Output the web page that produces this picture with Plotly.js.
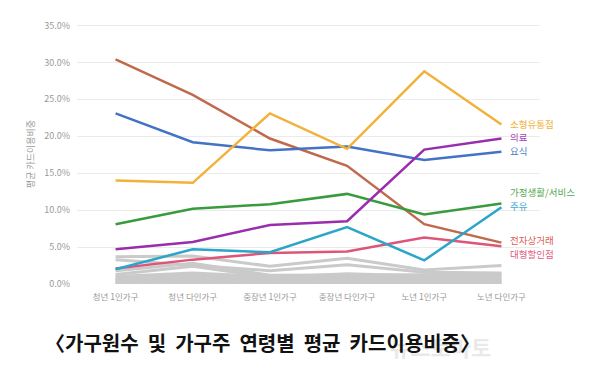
<!DOCTYPE html>
<html><head><meta charset="utf-8">
<script src="https://cdn.plot.ly/plotly-3.0.1.min.js"></script>
<style>html,body{margin:0;padding:0;background:#fff;}#chart{width:603px;height:385px;}</style>
</head><body><div id="chart"></div>
<script>
const categories = ["청년 1인가구","청년 다인가구","중장년 1인가구","중장년 다인가구","노년 1인가구","노년 다인가구"];
const yTicks = [0,5,10,15,20,25,30,35];

const smallRetail = [14.0, 13.7, 23.1, 18.3, 28.8, 21.6];   // 소형유통점
const medical     = [4.7, 5.7, 8.0, 8.5, 18.2, 19.7];       // 의료
const dining      = [23.1, 19.2, 18.1, 18.6, 16.8, 17.9];   // 요식
const household   = [8.1, 10.2, 10.8, 12.2, 9.4, 10.9];     // 가정생활/서비스
const fuel        = [2.0, 4.7, 4.3, 7.7, 3.2, 10.4];        // 주유
const ecommerce   = [30.4, 25.6, 19.7, 16.0, 8.1, 5.6];     // 전자상거래
const discount    = [2.1, 3.3, 4.2, 4.4, 6.3, 5.1];         // 대형할인점

const gray1  = [3.7, 3.8, 2.4, 3.5, 1.9, 2.5];
const gray2  = [3.3, 2.6, 1.8, 2.6, 1.6, 1.5];
const gray3  = [1.8, 2.8, 1.2, 1.2, 1.3, 1.3];
const gray4  = [1.3, 2.4, 0.9, 1.4, 1.1, 1.2];
const gray5  = [1.0, 1.5, 1.0, 1.0, 0.9, 1.0];
const gray6  = [0.8, 1.2, 0.7, 0.9, 0.8, 0.8];
const gray7  = [0.6, 0.9, 0.6, 0.7, 0.6, 0.6];
const gray8  = [0.5, 0.7, 0.4, 0.5, 0.5, 0.5];
const gray9  = [0.3, 0.5, 0.3, 0.4, 0.4, 0.3];
const gray10 = [0.2, 0.3, 0.2, 0.2, 0.3, 0.2];
const gray11 = [0.1, 0.2, 0.1, 0.1, 0.2, 0.1];

const grays = [gray1,gray2,gray3,gray4,gray5,gray6,gray7,gray8,gray9,gray10,gray11];

const captionWords = ["〈가구원수","및","가구주","연령별","평균","카드이용비중〉"];

const series = [
  {name:"소형유통점", y:smallRetail, color:"#F2B139", label:"#F2B139", ly:21.6},
  {name:"의료", y:medical, color:"#9A2CAE", label:"#A846C0", ly:19.9},
  {name:"요식", y:dining, color:"#4472C4", label:"#4D7BCB", ly:18.0},
  {name:"가정생활/서비스", y:household, color:"#3A9A3E", label:"#52A84F", ly:12.5},
  {name:"주유", y:fuel, color:"#2BA5C8", label:"#3AAAD0", ly:10.6},
  {name:"전자상거래", y:ecommerce, color:"#BF6A4C", label:"#E0604F", ly:5.9},
  {name:"대형할인점", y:discount, color:"#DE557A", label:"#E0607E", ly:4.0}
];

const traces = [];
grays.forEach(g => traces.push({
  x: categories.map((c,i)=>i), y: g, type:"scatter", mode:"lines",
  line:{color:"#CACACA", width:3}, hoverinfo:"skip", showlegend:false
}));
series.slice().reverse().forEach(s => traces.push({
  x: categories.map((c,i)=>i), y: s.y, type:"scatter", mode:"lines", name:s.name,
  line:{color:s.color, width:2.5}, showlegend:false
}));

const annotations = series.map(s => ({
  x: categories.length-1, y: s.ly, xref:"x", yref:"y", text:s.name,
  showarrow:false, xanchor:"left", yanchor:"middle", xshift:7,
  font:{family:"Noto Sans CJK KR", size:9.5, color:s.label}
}));
annotations.push({
  xref:"paper", yref:"paper", x:0.785, y:0, xanchor:"center", yanchor:"middle",
  yshift:-62, showarrow:false, text:"<b>뉴스토마토</b>",
  font:{family:"Noto Sans CJK KR", size:22, color:"rgba(205,205,205,0.45)"}
});
annotations.push({
  xref:"paper", yref:"paper", x:0.40, y:0, xanchor:"center", yanchor:"middle",
  yshift:-58, showarrow:false,
  text:"<b>" + captionWords.join("\u00a0\u00a0") + "</b>",
  font:{family:"Noto Sans CJK KR", size:20, color:"#111"}
});

const layout = {
  width:603, height:385,
  margin:{l:77, r:63, t:24, b:101},
  paper_bgcolor:"#fff", plot_bgcolor:"#fff",
  showlegend:false,
  xaxis:{
    range:[-0.5, 5.5], tickmode:"array",
    tickvals: categories.map((c,i)=>i), ticktext: categories,
    showgrid:false, zeroline:false, showline:false, ticks:"",
    ticklabelstandoff:6,
    tickfont:{family:"Noto Sans CJK KR", size:8.5, color:"#999"}
  },
  yaxis:{
    range:[0, 35.2], tickmode:"array", tickvals:yTicks,
    ticktext: yTicks.map(v=>v.toFixed(1)+"%"),
    showgrid:true, gridcolor:"#EBEBEB", gridwidth:1,
    zeroline:false, showline:false, ticks:"",
    ticklabelstandoff:6,
    tickfont:{family:"Noto Sans CJK KR", size:9, color:"#999"},
    title:{text:"평균 카드이용비중", standoff:8,
      font:{family:"Noto Sans CJK KR", size:9, color:"#999"}}
  },
  annotations: annotations
};

Plotly.newPlot("chart", traces, layout, {displayModeBar:false, staticPlot:true});
</script></body></html>
